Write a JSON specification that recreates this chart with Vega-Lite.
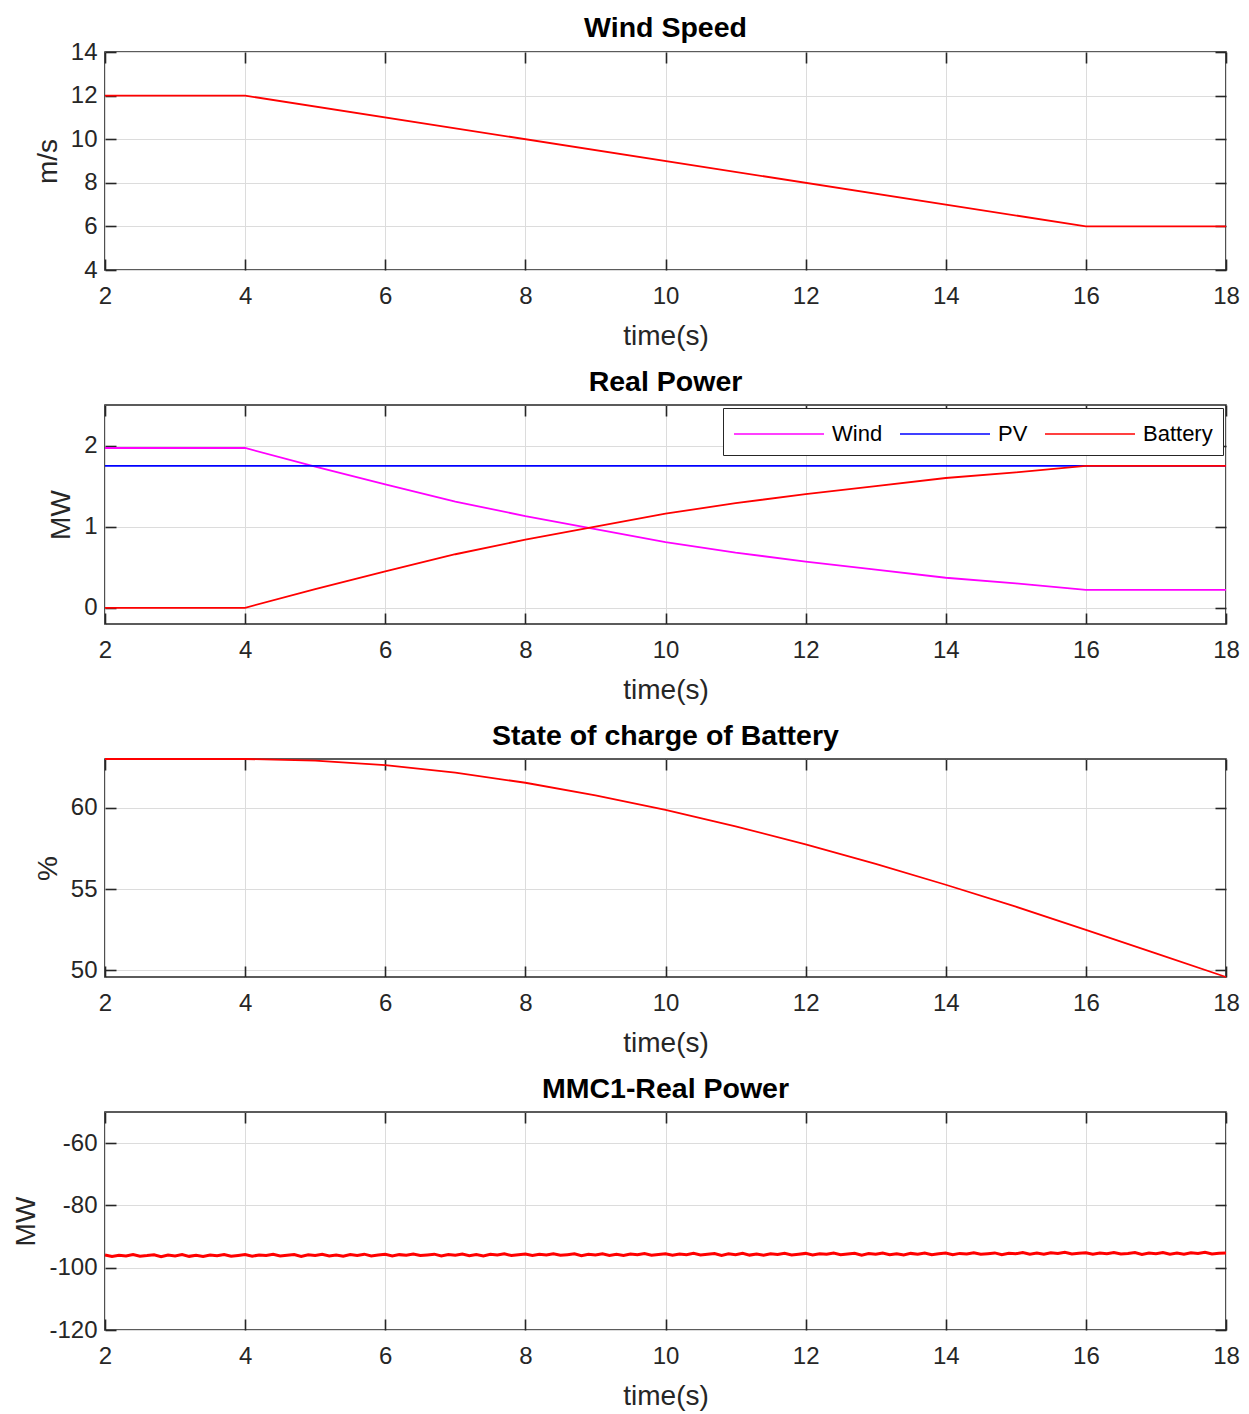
{
  "$schema": "https://vega.github.io/schema/vega-lite/v6.json",
  "background": "white",
  "padding": {"left": 12, "top": 12, "right": 5, "bottom": 5},
  "datasets": {
    "ws": [{"t": 2, "v": 12}, {"t": 4, "v": 12}, {"t": 16, "v": 6}, {"t": 18, "v": 6}],
    "pw": [
      {"t": 2, "v": 1.97, "s": "Wind"}, {"t": 4, "v": 1.97, "s": "Wind"}, {"t": 5, "v": 1.74, "s": "Wind"}, {"t": 6, "v": 1.52, "s": "Wind"}, {"t": 7, "v": 1.31, "s": "Wind"}, {"t": 8, "v": 1.13, "s": "Wind"}, {"t": 9, "v": 0.97, "s": "Wind"}, {"t": 10, "v": 0.81, "s": "Wind"}, {"t": 11, "v": 0.68, "s": "Wind"}, {"t": 12, "v": 0.57, "s": "Wind"}, {"t": 13, "v": 0.47, "s": "Wind"}, {"t": 14, "v": 0.37, "s": "Wind"}, {"t": 15, "v": 0.3, "s": "Wind"}, {"t": 16, "v": 0.22, "s": "Wind"}, {"t": 18, "v": 0.22, "s": "Wind"},
      {"t": 2, "v": 1.75, "s": "PV"}, {"t": 18, "v": 1.75, "s": "PV"},
      {"t": 2, "v": 0, "s": "Battery"}, {"t": 4, "v": 0, "s": "Battery"}, {"t": 5, "v": 0.23, "s": "Battery"}, {"t": 6, "v": 0.45, "s": "Battery"}, {"t": 7, "v": 0.66, "s": "Battery"}, {"t": 8, "v": 0.84, "s": "Battery"}, {"t": 9, "v": 1.0, "s": "Battery"}, {"t": 10, "v": 1.16, "s": "Battery"}, {"t": 11, "v": 1.29, "s": "Battery"}, {"t": 12, "v": 1.4, "s": "Battery"}, {"t": 13, "v": 1.5, "s": "Battery"}, {"t": 14, "v": 1.6, "s": "Battery"}, {"t": 15, "v": 1.67, "s": "Battery"}, {"t": 16, "v": 1.75, "s": "Battery"}, {"t": 18, "v": 1.75, "s": "Battery"}
    ],
    "soc": [
      {"t": 2, "v": 63.0}, {"t": 3, "v": 63.0}, {"t": 4, "v": 63.0}, {"t": 5, "v": 62.9}, {"t": 6, "v": 62.62}, {"t": 7, "v": 62.16}, {"t": 8, "v": 61.54}, {"t": 9, "v": 60.77}, {"t": 10, "v": 59.87}, {"t": 11, "v": 58.86}, {"t": 12, "v": 57.75}, {"t": 13, "v": 56.55}, {"t": 14, "v": 55.27}, {"t": 15, "v": 53.92}, {"t": 16, "v": 52.5}, {"t": 17, "v": 51.05}, {"t": 18, "v": 49.6}
    ],
    "mmc": [
      {"t": 2.0, "v": -95.9}, {"t": 2.1, "v": -96.4}, {"t": 2.2, "v": -96.0}, {"t": 2.3, "v": -96.2}, {"t": 2.4, "v": -95.8}, {"t": 2.5, "v": -96.3}, {"t": 2.6, "v": -96.1}, {"t": 2.7, "v": -95.85}, {"t": 2.8, "v": -96.45}, {"t": 2.9, "v": -95.95},
      {"t": 3.0, "v": -96.2}, {"t": 3.1, "v": -95.8}, {"t": 3.2, "v": -96.35}, {"t": 3.3, "v": -96.0}, {"t": 3.4, "v": -96.4}, {"t": 3.5, "v": -95.9}, {"t": 3.6, "v": -96.15}, {"t": 3.7, "v": -95.75}, {"t": 3.8, "v": -96.3}, {"t": 3.9, "v": -96.05},
      {"t": 4.0, "v": -95.8}, {"t": 4.1, "v": -96.3}, {"t": 4.2, "v": -95.9}, {"t": 4.3, "v": -96.1}, {"t": 4.4, "v": -95.7}, {"t": 4.5, "v": -96.2}, {"t": 4.6, "v": -96.0}, {"t": 4.7, "v": -95.75}, {"t": 4.8, "v": -96.35}, {"t": 4.9, "v": -95.85},
      {"t": 5.0, "v": -96.1}, {"t": 5.1, "v": -95.7}, {"t": 5.2, "v": -96.25}, {"t": 5.3, "v": -95.9}, {"t": 5.4, "v": -96.3}, {"t": 5.5, "v": -95.8}, {"t": 5.6, "v": -96.05}, {"t": 5.7, "v": -95.65}, {"t": 5.8, "v": -96.2}, {"t": 5.9, "v": -95.95},
      {"t": 6.0, "v": -95.7}, {"t": 6.1, "v": -96.2}, {"t": 6.2, "v": -95.8}, {"t": 6.3, "v": -96.0}, {"t": 6.4, "v": -95.6}, {"t": 6.5, "v": -96.1}, {"t": 6.6, "v": -95.9}, {"t": 6.7, "v": -95.65}, {"t": 6.8, "v": -96.25}, {"t": 6.9, "v": -95.75},
      {"t": 7.0, "v": -96.0}, {"t": 7.1, "v": -95.6}, {"t": 7.2, "v": -96.15}, {"t": 7.3, "v": -95.8}, {"t": 7.4, "v": -96.2}, {"t": 7.5, "v": -95.7}, {"t": 7.6, "v": -95.95}, {"t": 7.7, "v": -95.55}, {"t": 7.8, "v": -96.1}, {"t": 7.9, "v": -95.85},
      {"t": 8.0, "v": -95.6}, {"t": 8.1, "v": -96.1}, {"t": 8.2, "v": -95.7}, {"t": 8.3, "v": -95.9}, {"t": 8.4, "v": -95.5}, {"t": 8.5, "v": -96.0}, {"t": 8.6, "v": -95.8}, {"t": 8.7, "v": -95.55}, {"t": 8.8, "v": -96.15}, {"t": 8.9, "v": -95.65},
      {"t": 9.0, "v": -95.9}, {"t": 9.1, "v": -95.5}, {"t": 9.2, "v": -96.05}, {"t": 9.3, "v": -95.7}, {"t": 9.4, "v": -96.1}, {"t": 9.5, "v": -95.6}, {"t": 9.6, "v": -95.85}, {"t": 9.7, "v": -95.45}, {"t": 9.8, "v": -96.0}, {"t": 9.9, "v": -95.75},
      {"t": 10.0, "v": -95.5}, {"t": 10.1, "v": -96.0}, {"t": 10.2, "v": -95.6}, {"t": 10.3, "v": -95.8}, {"t": 10.4, "v": -95.4}, {"t": 10.5, "v": -95.9}, {"t": 10.6, "v": -95.7}, {"t": 10.7, "v": -95.45}, {"t": 10.8, "v": -96.05}, {"t": 10.9, "v": -95.55},
      {"t": 11.0, "v": -95.8}, {"t": 11.1, "v": -95.4}, {"t": 11.2, "v": -95.95}, {"t": 11.3, "v": -95.6}, {"t": 11.4, "v": -96.0}, {"t": 11.5, "v": -95.5}, {"t": 11.6, "v": -95.75}, {"t": 11.7, "v": -95.35}, {"t": 11.8, "v": -95.9}, {"t": 11.9, "v": -95.65},
      {"t": 12.0, "v": -95.4}, {"t": 12.1, "v": -95.9}, {"t": 12.2, "v": -95.5}, {"t": 12.3, "v": -95.7}, {"t": 12.4, "v": -95.3}, {"t": 12.5, "v": -95.8}, {"t": 12.6, "v": -95.6}, {"t": 12.7, "v": -95.35}, {"t": 12.8, "v": -95.95}, {"t": 12.9, "v": -95.45},
      {"t": 13.0, "v": -95.7}, {"t": 13.1, "v": -95.3}, {"t": 13.2, "v": -95.85}, {"t": 13.3, "v": -95.5}, {"t": 13.4, "v": -95.9}, {"t": 13.5, "v": -95.4}, {"t": 13.6, "v": -95.65}, {"t": 13.7, "v": -95.25}, {"t": 13.8, "v": -95.8}, {"t": 13.9, "v": -95.55},
      {"t": 14.0, "v": -95.3}, {"t": 14.1, "v": -95.8}, {"t": 14.2, "v": -95.4}, {"t": 14.3, "v": -95.6}, {"t": 14.4, "v": -95.2}, {"t": 14.5, "v": -95.7}, {"t": 14.6, "v": -95.5}, {"t": 14.7, "v": -95.25}, {"t": 14.8, "v": -95.85}, {"t": 14.9, "v": -95.35},
      {"t": 15.0, "v": -95.5}, {"t": 15.1, "v": -95.1}, {"t": 15.2, "v": -95.65}, {"t": 15.3, "v": -95.3}, {"t": 15.4, "v": -95.7}, {"t": 15.5, "v": -95.2}, {"t": 15.6, "v": -95.45}, {"t": 15.7, "v": -95.05}, {"t": 15.8, "v": -95.6}, {"t": 15.9, "v": -95.35},
      {"t": 16.0, "v": -95.2}, {"t": 16.1, "v": -95.7}, {"t": 16.2, "v": -95.3}, {"t": 16.3, "v": -95.5}, {"t": 16.4, "v": -95.1}, {"t": 16.5, "v": -95.6}, {"t": 16.6, "v": -95.4}, {"t": 16.7, "v": -95.15}, {"t": 16.8, "v": -95.75}, {"t": 16.9, "v": -95.25},
      {"t": 17.0, "v": -95.5}, {"t": 17.1, "v": -95.1}, {"t": 17.2, "v": -95.65}, {"t": 17.3, "v": -95.3}, {"t": 17.4, "v": -95.7}, {"t": 17.5, "v": -95.2}, {"t": 17.6, "v": -95.45}, {"t": 17.7, "v": -95.05}, {"t": 17.8, "v": -95.6}, {"t": 17.9, "v": -95.35},
      {"t": 18.0, "v": -95.3}
    ]
  },
  "bounds": "flush",
  "spacing": 135,
  "resolve": {"scale": {"color": "independent"}, "legend": {"color": "independent"}},
  "vconcat": [
    {
      "width": 1121, "height": 218,
      "title": {"text": "Wind Speed", "offset": -2},
      "data": {"name": "ws"},
      "layer": [
        {
          "mark": {"type": "line", "color": "#ff0000", "strokeWidth": 1.8},
          "encoding": {
            "x": {"field": "t", "type": "quantitative", "scale": {"domain": [2, 18], "nice": false}, "axis": {"orient": "bottom", "title": "time(s)", "values": [2, 4, 6, 8, 10, 12, 14, 16, 18]}},
            "y": {"field": "v", "type": "quantitative", "scale": {"domain": [4, 14], "nice": false, "zero": false}, "axis": {"orient": "left", "title": "m/s", "values": [4, 6, 8, 10, 12, 14]}}
          }
        },
        {
          "mark": {"type": "line", "opacity": 0},
          "encoding": {
            "x": {"field": "t", "type": "quantitative", "axis": {"orient": "top", "title": null, "labels": false, "grid": false, "values": [2, 4, 6, 8, 10, 12, 14, 16, 18]}},
            "y": {"field": "v", "type": "quantitative", "axis": {"orient": "right", "title": null, "labels": false, "grid": false, "values": [4, 6, 8, 10, 12, 14]}}
          }
        }
      ],
      "resolve": {"axis": {"x": "independent", "y": "independent"}}
    },
    {
      "width": 1121, "height": 219,
      "title": {"text": "Real Power", "offset": 8},
      "data": {"name": "pw"},
      "layer": [
        {
          "mark": {"type": "line", "strokeWidth": 1.8},
          "encoding": {
            "x": {"field": "t", "type": "quantitative", "scale": {"domain": [2, 18], "nice": false}, "axis": {"orient": "bottom", "title": "time(s)", "values": [2, 4, 6, 8, 10, 12, 14, 16, 18]}},
            "y": {"field": "v", "type": "quantitative", "scale": {"domain": [-0.2, 2.5], "nice": false, "zero": false}, "axis": {"orient": "left", "title": "MW", "values": [0, 1, 2]}},
            "color": {"field": "s", "type": "nominal", "scale": {"domain": ["Wind", "PV", "Battery"], "range": ["#ff00ff", "#0000ff", "#ff0000"]},
              "legend": {"title": null, "orient": "top-right", "offset": 3, "direction": "horizontal", "symbolType": "M-1,0H5", "symbolSize": 900, "symbolStrokeWidth": 1.5, "labelFontSize": 22, "labelFont": "Liberation Sans", "labelColor": "#000000", "labelOffset": 67, "columnPadding": 14, "padding": 10, "strokeColor": "#262626", "fillColor": "#ffffff", "cornerRadius": 0}}
          }
        },
        {
          "mark": {"type": "line", "opacity": 0},
          "encoding": {
            "x": {"field": "t", "type": "quantitative", "axis": {"orient": "top", "title": null, "labels": false, "grid": false, "values": [2, 4, 6, 8, 10, 12, 14, 16, 18]}},
            "y": {"field": "v", "type": "quantitative", "axis": {"orient": "right", "title": null, "labels": false, "grid": false, "values": [0, 1, 2]}}
          }
        }
      ],
      "resolve": {"axis": {"x": "independent", "y": "independent"}}
    },
    {
      "width": 1121, "height": 218,
      "title": {"text": "State of charge of Battery", "offset": 5},
      "data": {"name": "soc"},
      "layer": [
        {
          "mark": {"type": "line", "color": "#ff0000", "strokeWidth": 1.8},
          "encoding": {
            "x": {"field": "t", "type": "quantitative", "scale": {"domain": [2, 18], "nice": false}, "axis": {"orient": "bottom", "title": "time(s)", "values": [2, 4, 6, 8, 10, 12, 14, 16, 18]}},
            "y": {"field": "v", "type": "quantitative", "scale": {"domain": [49.6, 63.0], "nice": false, "zero": false}, "axis": {"orient": "left", "title": "%", "values": [50, 55, 60]}}
          }
        },
        {
          "mark": {"type": "line", "opacity": 0},
          "encoding": {
            "x": {"field": "t", "type": "quantitative", "axis": {"orient": "top", "title": null, "labels": false, "grid": false, "values": [2, 4, 6, 8, 10, 12, 14, 16, 18]}},
            "y": {"field": "v", "type": "quantitative", "axis": {"orient": "right", "title": null, "labels": false, "grid": false, "values": [50, 55, 60]}}
          }
        }
      ],
      "resolve": {"axis": {"x": "independent", "y": "independent"}}
    },
    {
      "width": 1121, "height": 218,
      "title": {"text": "MMC1-Real Power", "offset": 8},
      "data": {"name": "mmc"},
      "layer": [
        {
          "mark": {"type": "line", "color": "#ff0000", "strokeWidth": 3},
          "encoding": {
            "x": {"field": "t", "type": "quantitative", "scale": {"domain": [2, 18], "nice": false}, "axis": {"orient": "bottom", "title": "time(s)", "values": [2, 4, 6, 8, 10, 12, 14, 16, 18]}},
            "y": {"field": "v", "type": "quantitative", "scale": {"domain": [-120, -50], "nice": false, "zero": false}, "axis": {"orient": "left", "title": "MW", "values": [-120, -100, -80, -60], "labelExpr": "'' + datum.value"}}
          }
        },
        {
          "mark": {"type": "line", "opacity": 0},
          "encoding": {
            "x": {"field": "t", "type": "quantitative", "axis": {"orient": "top", "title": null, "labels": false, "grid": false, "values": [2, 4, 6, 8, 10, 12, 14, 16, 18]}},
            "y": {"field": "v", "type": "quantitative", "axis": {"orient": "right", "title": null, "labels": false, "grid": false, "values": [-120, -100, -80, -60]}}
          }
        }
      ],
      "resolve": {"axis": {"x": "independent", "y": "independent"}}
    }
  ],
  "config": {
    "font": "Liberation Sans",
    "view": {"stroke": "#262626", "strokeWidth": 1.6},
    "axis": {
      "labelFont": "Liberation Sans", "labelFontSize": 24, "labelColor": "#262626", "labelFlush": false,
      "titleFont": "Liberation Sans", "titleFontSize": 28, "titleFontWeight": "normal", "titleColor": "#262626",
      "tickColor": "#262626", "tickSize": -11, "tickWidth": 1.6, "domain": false,
      "gridColor": "#dcdcdc", "gridWidth": 1
    },
    "axisX": {"labelPadding": 25, "titlePadding": 14},
    "axisY": {"labelPadding": 19, "titlePadding": 8},
    "title": {"fontSize": 28.5, "font": "Liberation Sans", "fontWeight": "bold", "color": "#000000"}
  }
}
